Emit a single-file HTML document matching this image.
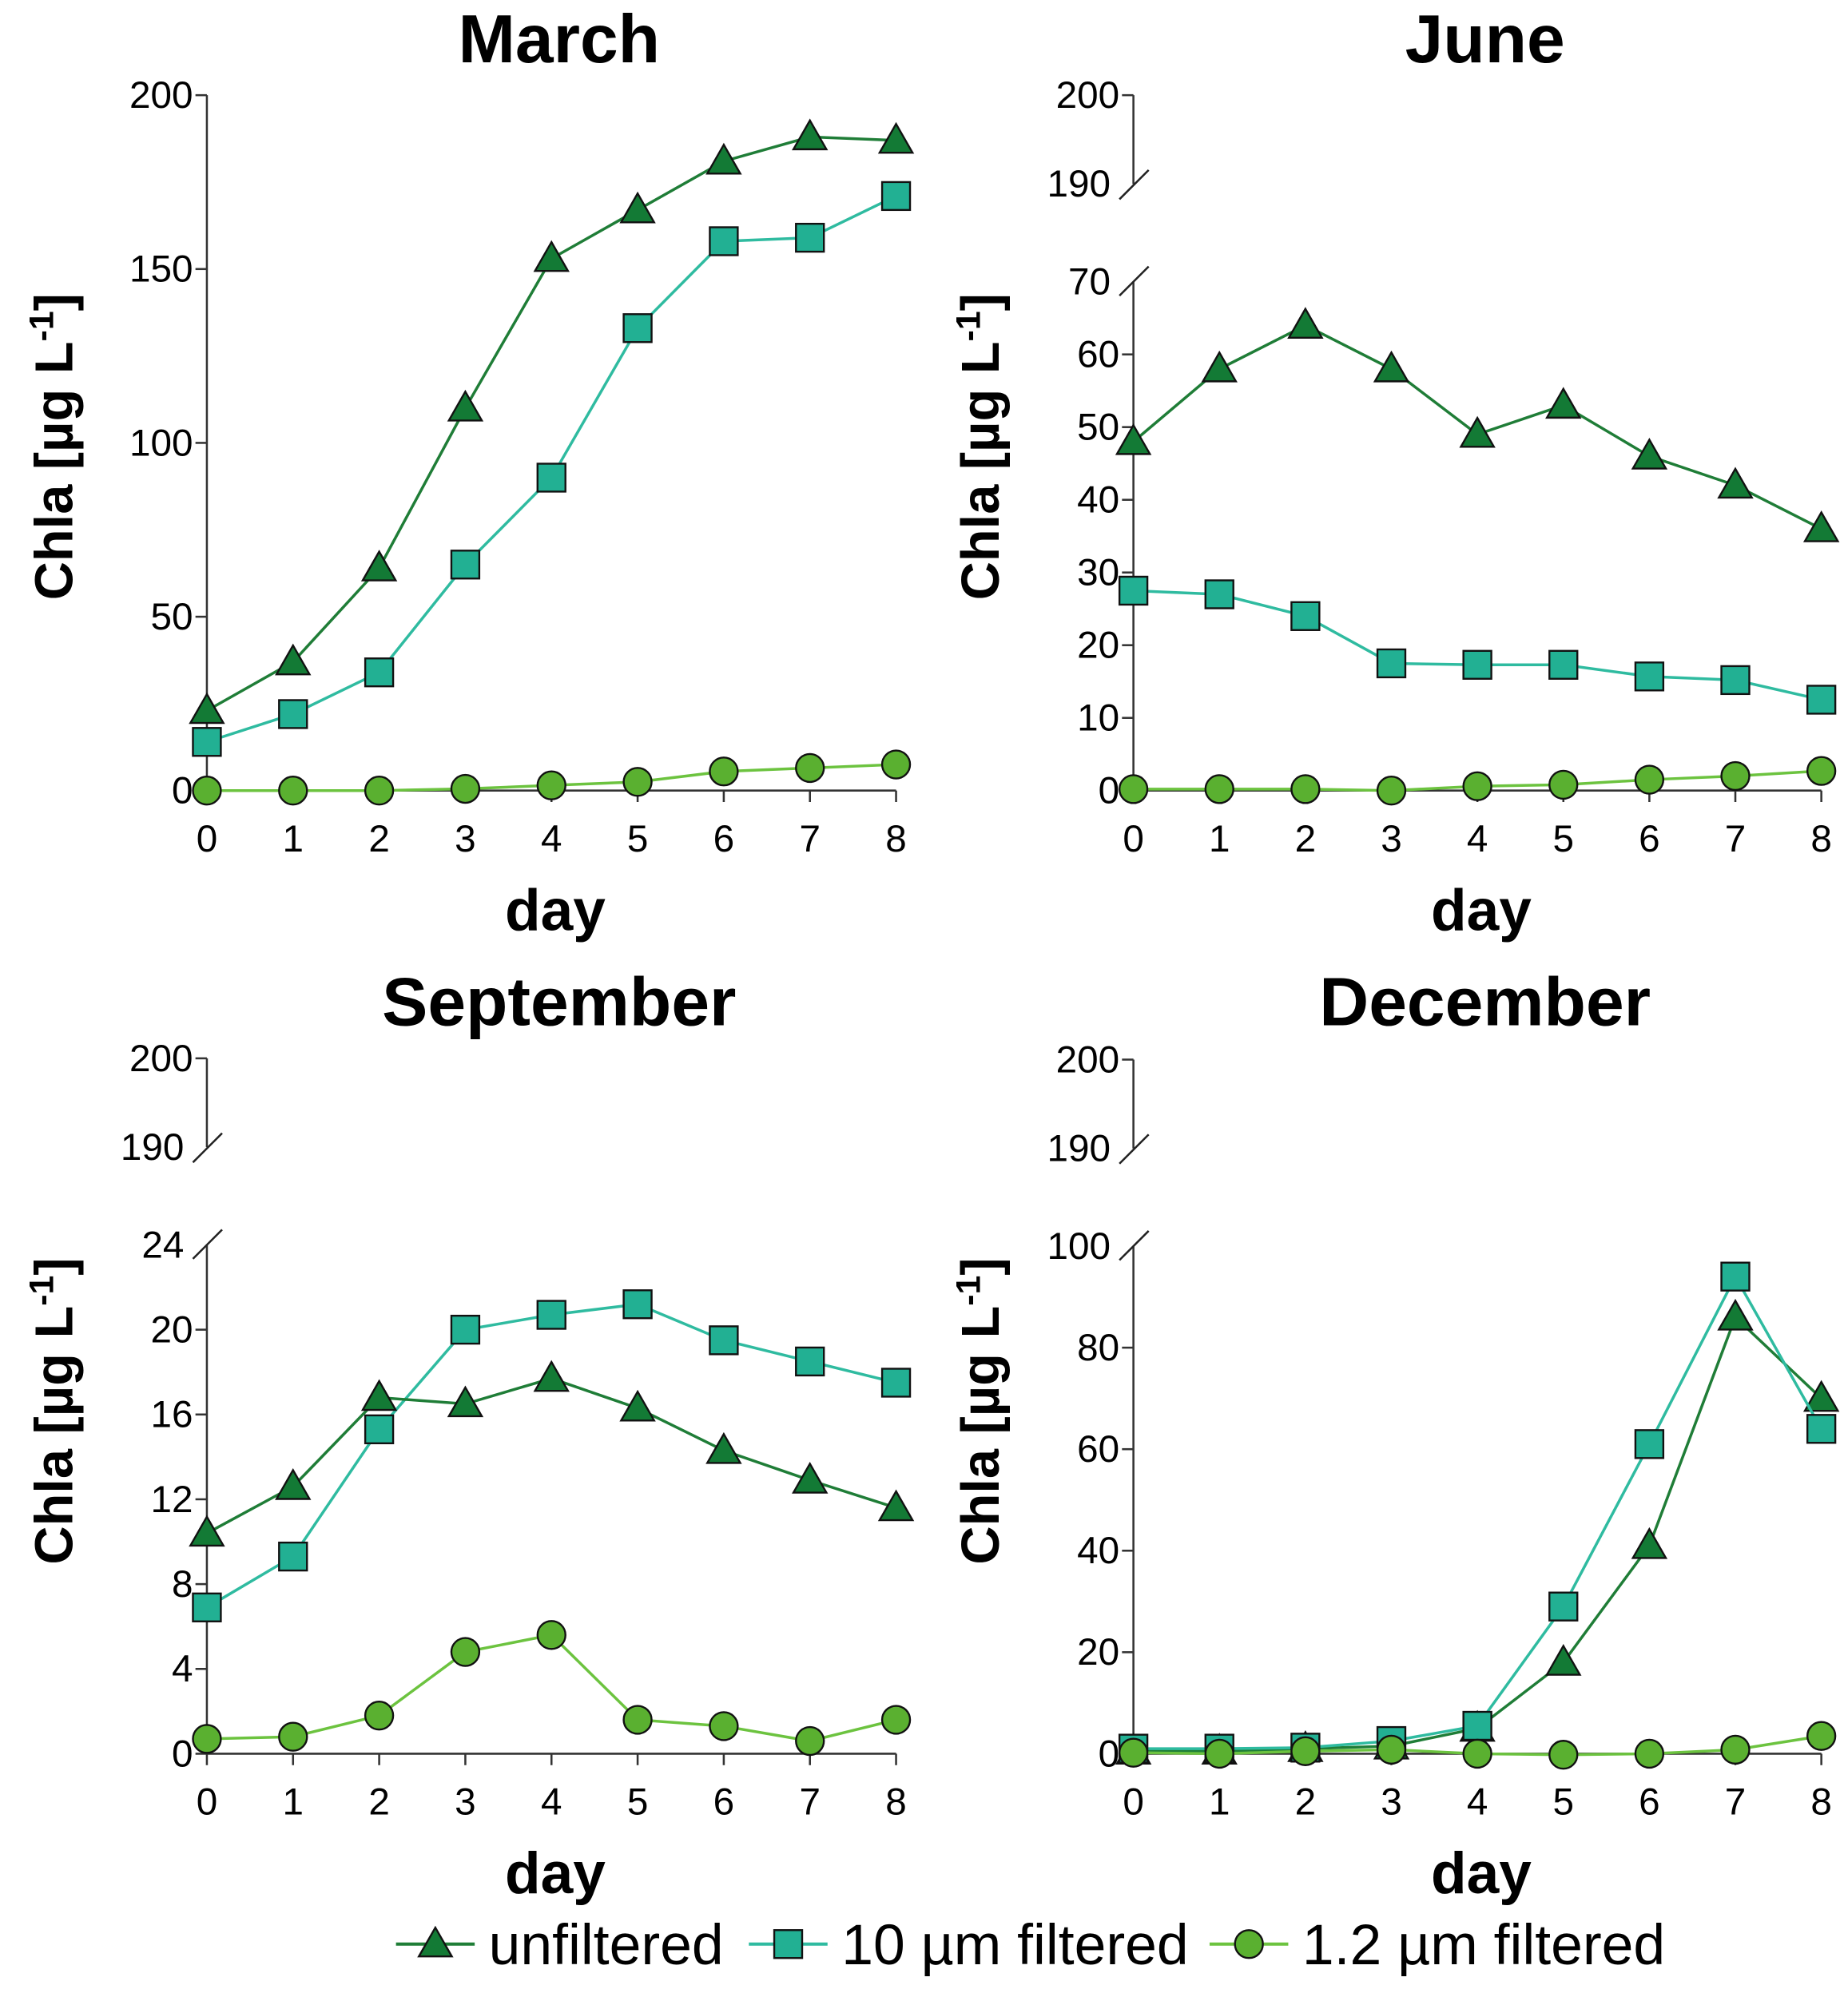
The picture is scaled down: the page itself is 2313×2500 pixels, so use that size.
<!DOCTYPE html>
<html><head><meta charset="utf-8"><style>
html,body{margin:0;padding:0;background:#fff}
svg{display:block}
text{font-family:"Liberation Sans",Arial,sans-serif}
</style></head><body>
<svg id="chart" width="2313" height="2500" viewBox="0 0 1456 1573.7" xmlns="http://www.w3.org/2000/svg"></svg>
<script>
const days = [0,1,2,3,4,5,6,7,8];
const marchUnf = [23,37,64,110,153,167,181,188,187];
const march10 = [14,22,34,65,90,133,158,159,171];
const march12 = [0,0,0,0.5,1.5,2.5,5.5,6.5,7.5];
const juneUnf = [48,58,64,58,49,53,46,42,36];
const june10 = [27.5,27,24,17.5,17.3,17.3,15.7,15.2,12.5];
const june12 = [0.2,0.2,0.2,0,0.6,0.8,1.5,2,2.7];
const sepUnf = [10.4,12.6,16.8,16.5,17.7,16.3,14.3,12.9,11.6];
const sep10 = [6.9,9.3,15.3,20,20.7,21.2,19.5,18.5,17.5];
const sep12 = [0.7,0.8,1.8,4.8,5.6,1.6,1.3,0.6,1.6];
const decUnf = [0.5,0.5,1,1.5,5,18,41,86,70];
const dec10 = [1,1,1.2,2.5,5.5,29,61,94,64];
const dec12 = [0.2,0,0.5,0.8,0,-0.2,0,0.8,3.5];
const marchTicks = [0,50,100,150,200];
const juneTicks = [0,10,20,30,40,50,60,70];
const sepTicks = [0,4,8,12,16,20,24];
const decTicks = [0,20,40,60,80,100];
const topTicks = [190,200];

const NS='http://www.w3.org/2000/svg';
const svg=document.getElementById('chart');
function mk(tag,attrs,parent){const e=document.createElementNS(NS,tag);for(const k in attrs)e.setAttribute(k,attrs[k]);(parent||svg).appendChild(e);return e;}
const C={unf:{line:'#1f7d37',fill:'#137a35'},f10:{line:'#2fbba0',fill:'#22b093'},f12:{line:'#6cc33f',fill:'#5ab030'}};
const TF=30;

function marker(g,type,x,y,col){
  let m;
  if(type==='tri'){const s=13;m=mk('polygon',{points:`${x},${y-s} ${x-s},${y+s*0.75} ${x+s},${y+s*0.75}`,fill:col,stroke:'#111','stroke-width':1.5},g);}
  else if(type==='sq'){m=mk('rect',{x:x-11,y:y-11,width:22,height:22,fill:col,stroke:'#111','stroke-width':1.5},g);}
  else {m=mk('circle',{cx:x,cy:y,r:11,fill:col,stroke:'#111','stroke-width':1.5},g);}
  return m;
}

function panel(p){
  const g=mk('g',{});
  
  
  const xs=d=>p.x0+(p.x8-p.x0)*d/8;
  const ys=v=>p.yB-(p.yB-p.yT)*(v-p.vmin)/(p.vmax-p.vmin);
  const t=mk('text',{x:(p.x0+p.x8)/2+6,y:p.titleY,'font-size':54,'font-weight':'bold','text-anchor':'middle'},g);t.textContent=p.title;
  
  
  const ax=mk('line',{x1:p.x0,y1:p.yB,x2:p.x8,y2:p.yB,stroke:'#333','stroke-width':1.6},g);
  
  
  days.forEach(d=>{
    mk('line',{x1:xs(d),y1:p.yB,x2:xs(d),y2:p.yB+9,stroke:'#333','stroke-width':1.6},g);
    const l=mk('text',{x:xs(d),y:p.yB+48,'font-size':TF,'text-anchor':'middle'},g);l.textContent=d;
    
    
  });
  const xt=mk('text',{x:(p.x0+p.x8)/2+3,y:p.yB+110,'font-size':46,'font-weight':'bold','text-anchor':'middle'},g);xt.textContent='day';
  
  
  const ay=mk('line',{x1:p.x0,y1:p.yT,x2:p.x0,y2:p.yB,stroke:'#333','stroke-width':1.6},g);
  
  
  p.ticks.forEach(v=>{
    const y=ys(v);
    if(!(p.broken&&v===p.vmax))mk('line',{x1:p.x0-9,y1:y,x2:p.x0,y2:y,stroke:'#333','stroke-width':1.6},g);
    const l=mk('text',{x:p.x0-(p.broken&&v===p.vmax?18:11),y:y+10,'font-size':TF,'text-anchor':'end'},g);l.textContent=v;
    
    
  });
  if(p.broken){
    mk('line',{x1:p.x0-11,y1:p.yT+11,x2:p.x0+12,y2:p.yT-12,stroke:'#222','stroke-width':1.6},g);
    const t200=p.yT-147,t190=p.yT-77;
    mk('line',{x1:p.x0,y1:t200,x2:p.x0,y2:t190,stroke:'#333','stroke-width':1.6},g);
    mk('line',{x1:p.x0-9,y1:t200,x2:p.x0,y2:t200,stroke:'#333','stroke-width':1.6},g);
    mk('line',{x1:p.x0-11,y1:t190+12,x2:p.x0+12,y2:t190-11,stroke:'#222','stroke-width':1.6},g);
    topTicks.forEach(v=>{
      const y=v===200?t200:t190;
      const l=mk('text',{x:p.x0-(v===200?11:18),y:y+10,'font-size':TF,'text-anchor':'end'},g);l.textContent=v;
      
      
    });
  }
  const yl=mk('text',{transform:`translate(${p.x0-106},${p.yTitleC}) rotate(-90)`,'font-size':42,'font-weight':'bold','text-anchor':'middle'},g);
  yl.innerHTML='Chla [µg L<tspan dy="-15" font-size="27">-1</tspan><tspan dy="15">]</tspan>';
  
  
  const series=[['f12',p.s12,'circ'],['f10',p.s10,'sq'],['unf',p.unf,'tri']];
  if(p.name==='december')series.reverse();
  series.forEach(([k,arr,type])=>{
    const sg=mk('g',{},g);
    
    
    const pts=arr.map((v,i)=>xs(days[i])+','+ys(v)).join(' ');
    mk('polyline',{points:pts,fill:'none',stroke:C[k].line,'stroke-width':2.2},sg);
    arr.forEach((v,i)=>{
      const m=marker(sg,type,xs(days[i]),ys(v),C[k].fill);
      
      
    });
  });
}

panel({name:'march',title:'March',x0:163,x8:706,yT:75,yB:623,vmin:0,vmax:200,ticks:marchTicks,unf:marchUnf,s10:march10,s12:march12,titleY:49,yTitleC:352,broken:false});
panel({name:'june',title:'June',x0:893,x8:1435,yT:222,yB:623,vmin:0,vmax:70,ticks:juneTicks,unf:juneUnf,s10:june10,s12:june12,titleY:49,yTitleC:352,broken:true});
panel({name:'september',title:'September',x0:163,x8:706,yT:981,yB:1382,vmin:0,vmax:24,ticks:sepTicks,unf:sepUnf,s10:sep10,s12:sep12,titleY:808,yTitleC:1112,broken:true});
panel({name:'december',title:'December',x0:893,x8:1435,yT:982,yB:1382,vmin:0,vmax:100,ticks:decTicks,unf:decUnf,s10:dec10,s12:dec12,titleY:808,yTitleC:1112,broken:true});

const lg=mk('g',{});


const legendLabels=['unfiltered','10 µm filtered','1.2 µm filtered'];
const legendKeys=['unf','f10','f12'];
const legendTypes=['tri','sq','circ'];
const legendX=[312,590,953];
legendLabels.forEach((lab,i)=>{
  const eg=mk('g',{},lg);
  
  
  const x=legendX[i],y=1532;
  mk('line',{x1:x,y1:y,x2:x+62,y2:y,stroke:C[legendKeys[i]].line,'stroke-width':2.5},eg);
  marker(eg,legendTypes[i],x+31,y,C[legendKeys[i]].fill);
  const t=mk('text',{x:x+73,y:y+16,'font-size':45},eg);t.textContent=lab;
});
</script>
</body></html>
